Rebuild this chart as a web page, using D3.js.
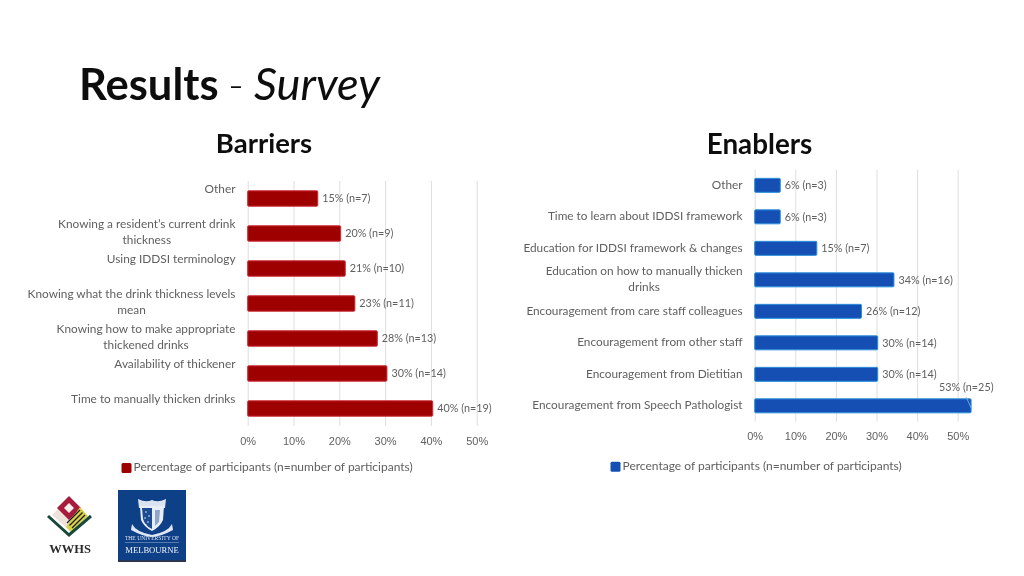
<!DOCTYPE html>
<html><head><meta charset="utf-8">
<script src="https://cdn.jsdelivr.net/npm/d3@7/dist/d3.min.js"></script>
<style>
html,body{margin:0;padding:0;background:#fff;overflow:hidden}
svg{display:block;font-family:Lato,"Open Sans",sans-serif}
</style></head><body>
<svg id="c" width="1024" height="576"></svg>
<script>
const barrierCategories = ["Other","Knowing a resident’s current drink|thickness","Using IDDSI terminology","Knowing what the drink thickness levels|mean","Knowing how to make appropriate|thickened drinks","Availability of thickener","Time to manually thicken drinks"];
const barrierValues = [15.3,20.3,21.3,23.4,28.3,30.4,40.4];
const barrierLabels = ["15% (n=7)","20% (n=9)","21% (n=10)","23% (n=11)","28% (n=13)","30% (n=14)","40% (n=19)"];
const enablerCategories = ["Other","Time to learn about IDDSI framework","Education for IDDSI framework & changes","Education on how to manually thicken|drinks","Encouragement from care staff colleagues","Encouragement from other staff","Encouragement from Dietitian","Encouragement from Speech Pathologist"];
const enablerValues = [6.3,6.3,15.3,34.3,26.3,30.3,30.3,53.3];
const enablerLabels = ["6% (n=3)","6% (n=3)","15% (n=7)","34% (n=16)","26% (n=12)","30% (n=14)","30% (n=14)","53% (n=25)"];
const tickValues = [0,10,20,30,40,50];
const legendLabel = "Percentage of participants (n=number of participants)";

const svg = d3.select("#c");
const ink = "#5f5f5f";
const defs = svg.append("defs");
defs.append("filter").attr("id","soft").append("feGaussianBlur").attr("stdDeviation",0.4);
defs.append("filter").attr("id","softer").append("feGaussianBlur").attr("stdDeviation",0.25);
const root = svg.append("g").attr("filter","url(#softer)");

// Titles
const title = root.append("text").attr("y",100).attr("fill","#111");
title.append("tspan").attr("x",79).attr("font-size",43.5).attr("font-weight",700).text("Results");
title.append("tspan").attr("x",228).attr("font-size",43).attr("font-weight",300).text("-");
title.append("tspan").attr("x",254).attr("font-size",45.2).attr("font-style","italic").attr("font-weight",400).text("Survey");
root.append("text").attr("x",264).attr("y",153).attr("text-anchor","middle").attr("font-size",27.5).attr("font-weight",700).attr("fill","#111").text("Barriers");
root.append("text").attr("x",759.5).attr("y",154).attr("text-anchor","middle").attr("font-size",27.8).attr("font-weight",700).attr("fill","#111").text("Enablers");

function panel(o){
  const x = d3.scaleLinear().domain([0,50]).range([o.x0,o.x50]);
  const y = d3.scaleBand().domain(o.cats).range([o.top,o.bottom]).paddingInner(o.pad).paddingOuter(o.pad/2);
  const g = root.append("g");
  const axis = d3.axisBottom(x).tickValues(tickValues).tickFormat(d=>d+"%").tickSize(o.bottom-o.top).tickPadding(0);
  const ax = g.append("g").attr("transform",`translate(0,${o.top})`).call(axis);
  ax.select(".domain").remove();
  ax.selectAll("line").attr("stroke","#dedede").attr("stroke-width",1);
  ax.selectAll("text").attr("fill",ink).attr("font-size",11).attr("dy",0)
    .attr("y",o.tickY-o.top).attr("dominant-baseline","middle");

  g.selectAll("rect.bar").data(o.vals).join("rect").attr("class","bar")
    .attr("x",x(0)).attr("y",(d,i)=>y(o.cats[i])).attr("width",d=>x(d)-x(0)).attr("height",y.bandwidth())
    .attr("rx",1).attr("fill",o.fill).attr("stroke",o.edge).attr("stroke-width",1);

  g.selectAll("text.val").data(o.labels).join("text").attr("class","val")
    .attr("x",(d,i)=>x(o.vals[i])+4.5+(o.shift[i]?o.shift[i][0]:0))
    .attr("y",(d,i)=>y(o.cats[i])+y.bandwidth()/2+1+(o.shift[i]?o.shift[i][1]:0))
    .attr("dominant-baseline","middle").attr("font-size",10.8).attr("fill",ink).text(d=>d);

  o.cats.forEach((c,i)=>{
    const lines = c.split("|");
    const cy = y(c)+y.bandwidth()/2+o.catDy;
    const t = g.append("text").attr("font-size",o.fs).attr("fill",ink);
    if(lines.length===1){
      t.attr("x",o.catX).attr("y",cy).attr("text-anchor","end").attr("dominant-baseline","middle").text(c);
    } else {
      const probe = g.append("text").attr("font-size",o.fs).text(lines[0]);
      const w = probe.node().getComputedTextLength(); probe.remove();
      const mid = o.catX - w/2;
      const base = y(c)+y.bandwidth()/2+o.wrapDy;
      lines.forEach((l,k)=>t.append("tspan").attr("x",mid).attr("y",base+k*15.7).attr("text-anchor","middle").attr("dominant-baseline","middle").text(l));
    }
  });

  g.append("rect").attr("x",o.legX).attr("y",o.legY-5).attr("width",10).attr("height",10).attr("rx",1.5).attr("fill",o.fill);
  g.append("text").attr("x",o.legX+12).attr("y",o.legY).attr("dominant-baseline","middle").attr("font-size",12).attr("fill",ink).text(legendLabel);
  return {x,y,g};
}

panel({cats:barrierCategories,vals:barrierValues,labels:barrierLabels,x0:247.7,x50:476.7,top:181,bottom:426,pad:0.56,
  fill:"#9e0006",edge:"#cf2a34",fs:11.85,tickY:441.7,catX:235.5,catDy:-8.7,wrapDy:-8.7,shift:{},legX:121.5,legY:468,legFs:12});
const right = panel({cats:enablerCategories,vals:enablerValues,labels:enablerLabels,x0:754.7,x50:957.7,top:169.6,bottom:421.6,pad:0.556,
  fill:"#1650b4",edge:"#2a8fdc",fs:11.8,tickY:436.7,catX:742.5,catDy:0.3,wrapDy:-7.5,shift:{7:[-36.5,-18.5]},legX:610.5,legY:466.7,legFs:12});
// leader line of the shifted 53% label
const lastCat = enablerCategories[enablerCategories.length-1];
const lastVal = enablerValues[enablerValues.length-1];
right.g.append("line").attr("x1",right.x(lastVal)-5).attr("y1",right.y(lastCat)-2)
  .attr("x2",right.x(lastVal)).attr("y2",right.y(lastCat)+9).attr("stroke","#8fb8e0").attr("stroke-width",0.8);

// WWHS logo
const lg = svg.append("g").attr("filter","url(#soft)");
const poly=(pts,f)=>lg.append("polygon").attr("points",pts.map(p=>p.join(",")).join(" ")).attr("fill",f);
poly([[52,515],[69,498],[80,510],[70,531]],"#eee3db");
poly([[69,496],[81,508],[69,520],[57,508]],"#a71f3c");
poly([[69,503],[74,508],[69,513],[64,508]],"#f7f0ea");
poly([[80,507],[88,516],[71,532],[66,527]],"#d8d24a");
[0,1,2].forEach(k=>lg.append("line").attr("x1",80+k*2.5).attr("y1",510+k*2.5).attr("x2",67+k*2.5).attr("y2",523+k*2.5).attr("stroke","#1f1f1f").attr("stroke-width",1.2));
lg.append("polyline").attr("points","48,516 69,535 91,516").attr("fill","none").attr("stroke","#17493a").attr("stroke-width",3);
lg.append("text").attr("x",70).attr("y",553).attr("text-anchor","middle").attr("font-size",12.5).attr("font-weight",700).attr("font-family","'Liberation Serif',serif").attr("fill","#2b2b2b").text("WWHS");

// University of Melbourne logo
const um = svg.append("g").attr("filter","url(#soft)");
um.append("rect").attr("x",118).attr("y",490).attr("width",68).attr("height",71).attr("fill","#0f3f86");
um.append("rect").attr("x",118).attr("y",560).attr("width",68).attr("height",2).attr("fill","#2a3550");
um.append("path").attr("d","M138,499 Q146,503 152,500 Q158,503 166,499 L165,508 L139,508 Z").attr("fill","#dbe4f0");
um.append("path").attr("d","M140,506 L164,506 L163,520 Q160,527 152,531 Q144,527 141,520 Z").attr("fill","#e8eef6");
um.append("path").attr("d","M142,508 L152,508 L152,529 Q145,526 143,519 Z").attr("fill","#1a4c94");
[[146,512],[149,516],[145,518],[148,522],[146,525]].forEach(p=>um.append("circle").attr("cx",p[0]).attr("cy",p[1]).attr("r",0.8).attr("fill","#e8eef6"));
um.append("path").attr("d","M155,510 L160,510 L159,522 L155,526 Z").attr("fill","#8fa6c8");
um.append("path").attr("d","M132,524 Q136,532 152,535 Q168,532 172,524 L173,530 Q160,537 152,537 Q144,537 131,530 Z").attr("fill","#dfe7f2");
um.append("text").attr("x",152).attr("y",540).attr("text-anchor","middle").attr("font-size",5.6).attr("font-family","'Liberation Serif',serif").attr("fill","#d8e2f0").text("THE UNIVERSITY OF");
um.append("line").attr("x1",125).attr("x2",179).attr("y1",542.5).attr("y2",542.5).attr("stroke","#9fb6d6").attr("stroke-width",0.5);
um.append("text").attr("x",152).attr("y",553).attr("text-anchor","middle").attr("font-size",8.6).attr("font-family","'Liberation Serif',serif").attr("fill","#eef3fa").text("MELBOURNE");
</script>
</body></html>
